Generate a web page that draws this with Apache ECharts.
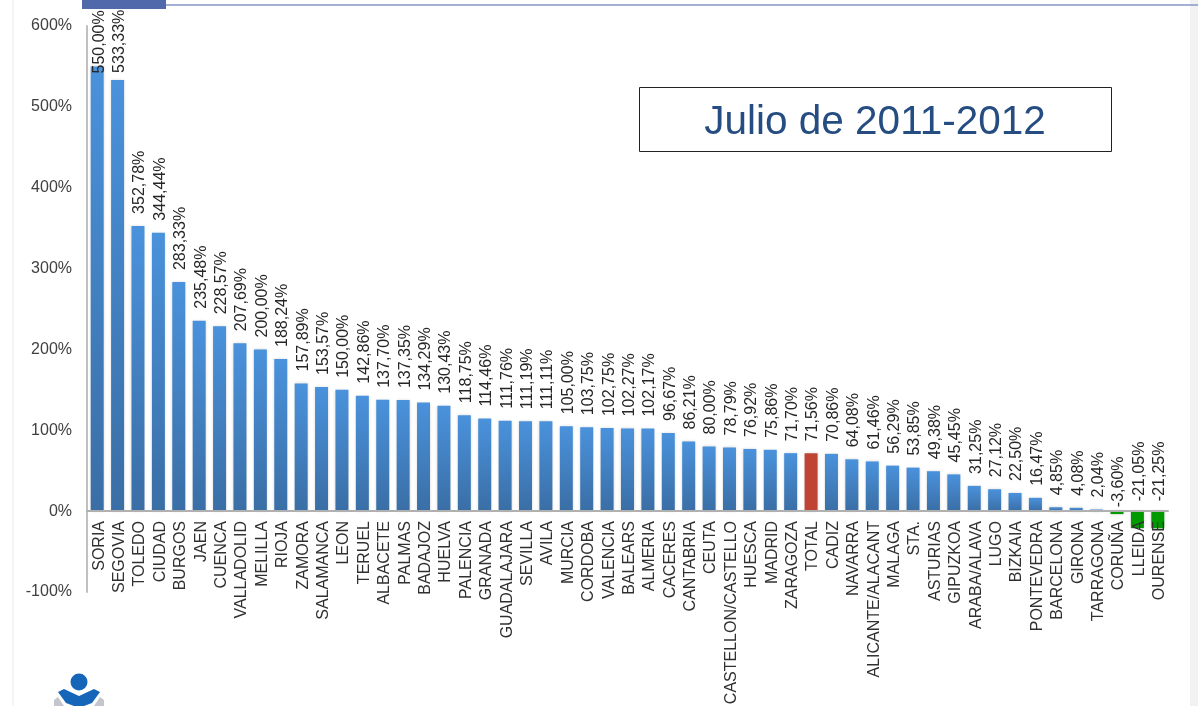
<!DOCTYPE html>
<html>
<head>
<meta charset="utf-8">
<title>Julio de 2011-2012</title>
<style>
  html, body { margin: 0; padding: 0; background: #fff; }
  #chart { width: 1198px; height: 706px; }
</style>
<script src="https://cdn.jsdelivr.net/npm/echarts@6/dist/echarts.min.js"></script>
</head>
<body>
<div id="chart"></div>
<script>
const provinces = ['SORIA', 'SEGOVIA', 'TOLEDO', 'CIUDAD', 'BURGOS', 'JAEN', 'CUENCA', 'VALLADOLID', 'MELILLA', 'RIOJA',
  'ZAMORA', 'SALAMANCA', 'LEON', 'TERUEL', 'ALBACETE', 'PALMAS', 'BADAJOZ', 'HUELVA', 'PALENCIA', 'GRANADA',
  'GUADALAJARA', 'SEVILLA', 'AVILA', 'MURCIA', 'CORDOBA', 'VALENCIA', 'BALEARS', 'ALMERIA', 'CACERES', 'CANTABRIA',
  'CEUTA', 'CASTELLON/CASTELLO', 'HUESCA', 'MADRID', 'ZARAGOZA', 'TOTAL', 'CADIZ', 'NAVARRA', 'ALICANTE/ALACANT', 'MALAGA',
  'STA.', 'ASTURIAS', 'GIPUZKOA', 'ARABA/ALAVA', 'LUGO', 'BIZKAIA', 'PONTEVEDRA', 'BARCELONA', 'GIRONA', 'TARRAGONA',
  'CORUÑA', 'LLEIDA', 'OURENSE'];
const variation = [550, 533.33, 352.78, 344.44, 283.33, 235.48, 228.57, 207.69, 200, 188.24,
  157.89, 153.57, 150, 142.86, 137.7, 137.35, 134.29, 130.43, 118.75, 114.46,
  111.76, 111.19, 111.11, 105, 103.75, 102.75, 102.27, 102.17, 96.67, 86.21,
  80, 78.79, 76.92, 75.86, 71.7, 71.56, 70.86, 64.08, 61.46, 56.29,
  53.85, 49.38, 45.45, 31.25, 27.12, 22.5, 16.47, 4.85, 4.08, 2.04,
  -3.6, -21.05, -21.25];
const yTicks = [-100, 0, 100, 200, 300, 400, 500, 600];

// ajuste vertical de algunas etiquetas que en el original no guardan la distancia
const labelShift = { SORIA: 19, SEGOVIA: 5, 'CORUÑA': 8, LLEIDA: 2, OURENSE: 2 };

const blueFill = new echarts.graphic.LinearGradient(0, 0, 0, 1, [
  { offset: 0, color: '#4a92dc' },
  { offset: 1, color: '#3a6ea5' }
]);

function pct(v) {
  return v.toFixed(2).replace('.', ',') + '%';
}

function barColor(name, v) {
  if (name === 'TOTAL') return '#bf4433';
  if (v < 0) return '#009a00';
  return blueFill;
}

const chart = echarts.init(document.getElementById('chart'), null, { renderer: 'canvas' });

chart.setOption({
  animation: false,
  backgroundColor: '#ffffff',
  textStyle: { fontFamily: '"Liberation Sans", Arial, sans-serif' },
  grid: { left: 87, top: 26, width: 1081, height: 566, containLabel: false, outerBoundsMode: 'none' },
  xAxis: {
    type: 'category',
    data: provinces,
    z: 5,
    axisTick: { show: false },
    axisLine: { onZero: true, lineStyle: { color: '#b0b0b0', width: 2 } },
    axisLabel: { interval: 0, rotate: 90, margin: -71, fontSize: 16, color: '#303030', verticalAlign: 'top', lineHeight: 4 }
  },
  yAxis: {
    type: 'value',
    min: yTicks[0],
    max: yTicks[yTicks.length - 1],
    interval: 100,
    splitLine: { show: false },
    axisTick: { show: false },
    axisLine: { show: true, onZero: false, lineStyle: { color: '#c0c0c0', width: 2 } },
    axisLabel: { margin: 15, fontSize: 16, color: '#404040', formatter: '{value}%' }
  },
  series: [
    {
      name: 'variacion',
      type: 'bar',
      barWidth: 13,
      barGap: '-100%',
      data: variation.map((v, i) => ({
        value: v,
        itemStyle: { color: barColor(provinces[i], v), shadowColor: 'rgba(0,0,0,0.22)', shadowBlur: 3 }
      }))
    },
    {
      // serie invisible: las etiquetas de los negativos quedan sobre el eje
      name: 'etiquetas',
      type: 'bar',
      barWidth: 13,
      barGap: '-100%',
      z: 6,
      silent: true,
      itemStyle: { color: 'transparent' },
      data: variation.map((v, i) => ({
        value: Math.max(v, 0),
        label: {
          show: true,
          position: 'top',
          rotate: 90,
          align: 'left',
          verticalAlign: 'middle',
          distance: 12,
          // el offset va en el sistema ya rotado del texto
          offset: [-(labelShift[provinces[i]] || 0), 2],
          fontSize: 16,
          color: '#262626',
          formatter: pct(v)
        }
      }))
    }
  ],
  graphic: [
    { type: 'rect', shape: { x: 1190, y: 0, width: 8, height: 706 }, style: { fill: '#f2f2f2' }, silent: true },
    { type: 'rect', shape: { x: 12, y: 0, width: 2, height: 706 }, style: { fill: '#f5f5f5' }, silent: true },
    { type: 'line', shape: { x1: 165, y1: 5, x2: 1198, y2: 5 }, style: { stroke: '#8496c6', lineWidth: 1.5 }, silent: true },
    { type: 'rect', shape: { x: 82, y: 0, width: 84, height: 9 }, style: { fill: '#5069aa' }, silent: true },
    {
      type: 'rect',
      shape: { x: 639.5, y: 87.5, width: 472, height: 64 },
      style: { fill: '#ffffff', stroke: '#222222', lineWidth: 1 },
      silent: true
    },
    {
      type: 'text',
      x: 875,
      y: 123,
      style: {
        text: 'Julio de 2011-2012',
        fill: '#264d82',
        font: '40.5px "Liberation Sans", Arial, sans-serif',
        align: 'center',
        verticalAlign: 'middle'
      },
      silent: true
    },
    // logo
    { type: 'circle', shape: { cx: 79, cy: 682, r: 8.5 }, style: { fill: '#1565b8' }, silent: true },
    {
      type: 'polygon',
      shape: { points: [[58, 692], [64, 689], [79, 696], [94, 689], [100, 692], [92, 703], [84, 706], [74, 706], [66, 703]] },
      style: { fill: '#1565b8' },
      silent: true
    },
    {
      type: 'polygon',
      shape: { points: [[54, 700], [58, 697], [64, 706], [54, 706]] },
      style: { fill: '#c3c6cc' },
      silent: true
    },
    {
      type: 'polygon',
      shape: { points: [[104, 700], [100, 697], [94, 706], [104, 706]] },
      style: { fill: '#c3c6cc' },
      silent: true
    }
  ]
});
</script>
</body>
</html>
